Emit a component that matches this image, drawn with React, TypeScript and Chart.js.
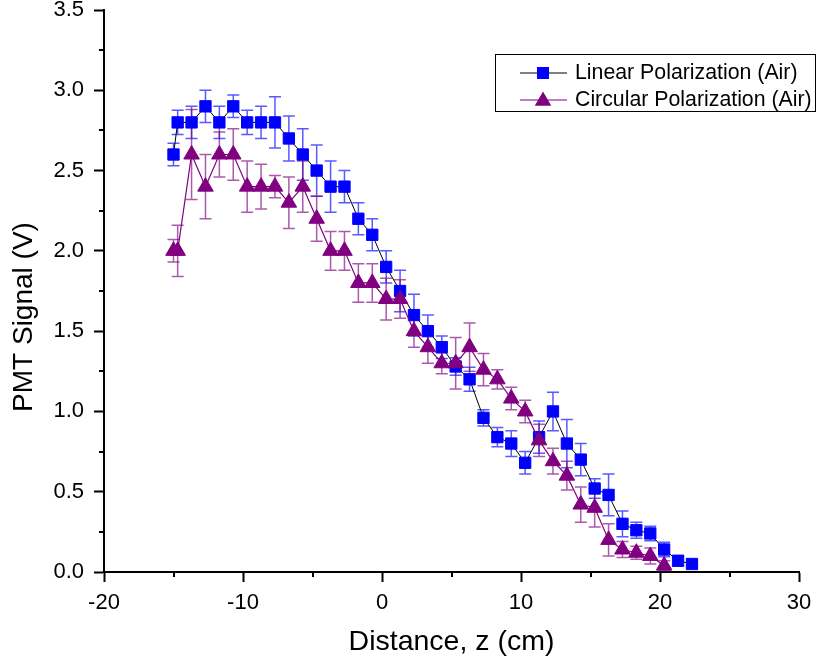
import React, { useEffect, useRef } from 'react';
import { Chart, registerables } from 'chart.js';

Chart.register(...registerables);

// ---- data ----
const distance = [
  -15, -14.7, -13.7, -12.7, -11.7, -10.7, -9.7, -8.7, -7.7, -6.7, -5.7, -4.7, -3.7,
  -2.7, -1.7, -0.7, 0.3, 1.3, 2.3, 3.3, 4.3, 5.3, 6.3, 7.3, 8.3, 9.3, 10.3, 11.3,
  12.3, 13.3, 14.3, 15.3, 16.3, 17.3, 18.3, 19.3, 20.3, 21.3, 22.3,
];

const linearSignal = [
  2.6, 2.8, 2.8, 2.9, 2.8, 2.9, 2.8, 2.8, 2.8, 2.7, 2.6, 2.5, 2.4,
  2.4, 2.2, 2.1, 1.9, 1.75, 1.6, 1.5, 1.4, 1.28, 1.2, 0.96, 0.84, 0.8, 0.68, 0.84,
  1.0, 0.8, 0.7, 0.52, 0.48, 0.3, 0.26, 0.24, 0.14, 0.07, 0.05,
];
const linearError = [
  0.07, 0.075, 0.1, 0.1, 0.1, 0.07, 0.075, 0.1, 0.16, 0.14, 0.16, 0.16, 0.16,
  0.1, 0.1, 0.1, 0.1, 0.13, 0.13, 0.1, 0.07, 0.055, 0.075, 0.05, 0.06, 0.08, 0.07, 0.1,
  0.12, 0.15, 0.1, 0.06, 0.13, 0.08, 0.05, 0.045, 0.045, 0.03, 0.02,
];

const circularSignal = [
  2.0, 2.0, 2.6, 2.4, 2.6, 2.6, 2.4, 2.4, 2.4, 2.3, 2.4, 2.2, 2.0,
  2.0, 1.8, 1.8, 1.7, 1.7, 1.5, 1.4, 1.3, 1.3, 1.4, 1.26, 1.2, 1.08, 1.0, 0.82,
  0.69, 0.6, 0.42, 0.4, 0.2, 0.14, 0.12, 0.1, 0.04,
];
const circularError = [
  0.07, 0.16, 0.28, 0.2, 0.14, 0.16, 0.16, 0.14, 0.07, 0.16, 0.16, 0.14, 0.12,
  0.12, 0.12, 0.12, 0.13, 0.12, 0.1, 0.1, 0.065, 0.16, 0.15, 0.1, 0.06, 0.07, 0.07, 0.1,
  0.08, 0.09, 0.11, 0.12, 0.1, 0.05, 0.04, 0.05, 0.03,
];

const seriesNames = ['Linear Polarization (Air)', 'Circular Polarization (Air)'];
const xTickLabels = [-20, -10, 0, 10, 20, 30];
const yTickLabels = [0, 0.5, 1.0, 1.5, 2.0, 2.5, 3.0, 3.5];
const xTitle = 'Distance, z (cm)';
const yTitle = 'PMT Signal (V)';

const FONT = '"Liberation Sans", Arial, Helvetica, sans-serif';
const BLUE = '#0000ff';
const PURPLE = '#800080';

function drawTriangle(ctx: CanvasRenderingContext2D, x: number, y: number, r: number) {
  ctx.beginPath();
  ctx.moveTo(x, y - r);
  ctx.lineTo(x + r * Math.sin(Math.PI * 2 / 3), y + r / 2);
  ctx.lineTo(x - r * Math.sin(Math.PI * 2 / 3), y + r / 2);
  ctx.closePath();
  ctx.fill();
}

const errorBarPlugin = {
  id: 'errorBars',
  beforeDatasetsDraw(chart: any) {
    const { ctx, scales } = chart;
    const xs = scales.x;
    const ys = scales.y;
    chart.data.datasets.forEach((ds: any) => {
      const errs = ds.errors;
      if (!errs) return;
      ctx.save();
      ctx.strokeStyle = ds.errorColor;
      ctx.lineWidth = 1.5;
      ds.data.forEach((p: any, i: number) => {
        const px = xs.getPixelForValue(p.x);
        const top = ys.getPixelForValue(p.y + errs[i]);
        const bot = ys.getPixelForValue(p.y - errs[i]);
        ctx.beginPath();
        ctx.moveTo(px, top);
        ctx.lineTo(px, bot);
        ctx.moveTo(px - 6, top);
        ctx.lineTo(px + 6, top);
        ctx.moveTo(px - 6, bot);
        ctx.lineTo(px + 6, bot);
        ctx.stroke();
      });
      ctx.restore();
    });
  },
};

const decorPlugin = {
  id: 'decor',
  afterDraw(chart: any) {
    const { ctx, scales, chartArea } = chart;
    const xs = scales.x;
    const ys = scales.y;
    ctx.save();
    // minor ticks
    ctx.strokeStyle = '#000';
    ctx.lineWidth = 2;
    ctx.beginPath();
    xs.ticks.forEach((t: any) => {
      if (Math.abs(t.value % 10) > 1e-6) {
        const px = Math.round(xs.getPixelForValue(t.value));
        ctx.moveTo(px, chartArea.bottom);
        ctx.lineTo(px, chartArea.bottom + 5);
      }
    });
    ys.ticks.forEach((t: any) => {
      if (Math.round(t.value * 4) % 2 !== 0) {
        const py = Math.round(ys.getPixelForValue(t.value));
        ctx.moveTo(chartArea.left, py);
        ctx.lineTo(chartArea.left - 5, py);
      }
    });
    ctx.stroke();

    // y title
    ctx.save();
    ctx.translate(24, 317);
    ctx.rotate(-Math.PI / 2);
    ctx.fillStyle = '#000';
    ctx.font = `28px ${FONT}`;
    ctx.textAlign = 'center';
    ctx.textBaseline = 'middle';
    ctx.fillText(yTitle, 0, 0);
    ctx.restore();

    // legend
    const lx = 495.5, ly = 54.5, lw = 320, lh = 57;
    ctx.strokeStyle = '#000';
    ctx.lineWidth = 1;
    ctx.strokeRect(lx, ly, lw, lh);
    const rows = [
      { y: 73, line: '#000', lineW: 1, color: BLUE, shape: 'rect', name: seriesNames[0] },
      { y: 100, line: PURPLE, lineW: 1.2, color: PURPLE, shape: 'tri', name: seriesNames[1] },
    ];
    rows.forEach((r) => {
      ctx.strokeStyle = r.line;
      ctx.lineWidth = r.lineW;
      ctx.beginPath();
      ctx.moveTo(520, r.y);
      ctx.lineTo(567, r.y);
      ctx.stroke();
      ctx.fillStyle = r.color;
      if (r.shape === 'rect') {
        ctx.fillRect(543 - 6, r.y - 6, 12, 12);
      } else {
        drawTriangle(ctx, 543, r.y + 1, 9.5);
      }
      ctx.fillStyle = '#000';
      ctx.font = `21.3px ${FONT}`;
      ctx.textAlign = 'left';
      ctx.textBaseline = 'middle';
      ctx.fillText(r.name, 575, r.y);
    });
    ctx.restore();
  },
};

export default function App() {
  const canvasRef = useRef<HTMLCanvasElement | null>(null);

  useEffect(() => {
    const canvas = canvasRef.current;
    if (!canvas) return;

    const linearData = linearSignal.map((v, i) => ({ x: distance[i], y: v }));
    const circularData = circularSignal.map((v, i) => ({ x: distance[i], y: v }));

    const isMajorX = (v: number) => xTickLabels.some((t) => Math.abs(t - v) < 1e-6);
    const isMajorY = (v: number) => yTickLabels.some((t) => Math.abs(t - v) < 1e-6);

    const chart = new Chart(canvas, {
      type: 'scatter',
      data: {
        datasets: [
          {
            label: seriesNames[0],
            data: linearData,
            showLine: true,
            borderColor: '#000',
            borderWidth: 1,
            pointStyle: 'rect',
            pointRadius: 8,
            pointBackgroundColor: BLUE,
            pointBorderColor: BLUE,
            pointBorderWidth: 1,
            order: 2,
            clip: false,
            errors: linearError,
            errorColor: 'rgba(20,20,255,0.7)',
          } as any,
          {
            label: seriesNames[1],
            data: circularData,
            showLine: true,
            borderColor: PURPLE,
            borderWidth: 1.2,
            pointStyle: 'triangle',
            pointRadius: 9,
            pointBackgroundColor: PURPLE,
            pointBorderColor: PURPLE,
            pointBorderWidth: 1,
            order: 1,
            clip: false,
            errors: circularError,
            errorColor: 'rgba(128,0,128,0.65)',
          } as any,
        ],
      },
      options: {
        responsive: false,
        animation: false,
        devicePixelRatio: 1,
        layout: { padding: { left: 0, top: 10, right: 18, bottom: 0 } },
        plugins: {
          legend: { display: false },
          tooltip: { enabled: false },
        },
        scales: {
          x: {
            type: 'linear',
            position: 'bottom',
            min: -20,
            max: 30,
            afterFit: (s: any) => {
              s.height = 93;
              s.paddingLeft = 0;
              s.paddingRight = 0;
            },
            ticks: {
              stepSize: 5,
              autoSkip: false,
              maxRotation: 0,
              padding: 10,
              color: '#000',
              font: { family: FONT, size: 22, lineHeight: 1 },
              callback: (v: any) => (isMajorX(Number(v)) ? String(v) : ''),
            },
            grid: {
              drawOnChartArea: false,
              drawTicks: true,
              tickLength: 10,
              tickWidth: 2,
              tickColor: (c: any) => (c.tick && isMajorX(c.tick.value) ? '#000' : 'rgba(0,0,0,0)'),
            },
            border: { display: true, color: '#000', width: 2 },
            title: {
              display: true,
              text: xTitle,
              color: '#000',
              font: { family: FONT, size: 28.5 },
              padding: { top: 0, bottom: 6 },
            },
          },
          y: {
            type: 'linear',
            position: 'left',
            min: 0,
            max: 3.5,
            afterFit: (s: any) => {
              s.width = 104;
              s.paddingTop = 0;
              s.paddingBottom = 0;
            },
            ticks: {
              stepSize: 0.25,
              autoSkip: false,
              padding: 10,
              color: '#000',
              font: { family: FONT, size: 22, lineHeight: 1 },
              callback: (v: any) => (isMajorY(Number(v)) ? Number(v).toFixed(1) : ''),
            },
            grid: {
              drawOnChartArea: false,
              drawTicks: true,
              tickLength: 10,
              tickWidth: 2,
              tickColor: (c: any) => (c.tick && isMajorY(c.tick.value) ? '#000' : 'rgba(0,0,0,0)'),
            },
            border: { display: true, color: '#000', width: 2 },
          },
        },
      },
      plugins: [errorBarPlugin, decorPlugin],
    });

    return () => chart.destroy();
  }, []);

  return (
    <div style={{ position: 'absolute', left: 0, top: 0, width: 817, height: 665, background: '#fff' }}>
      <canvas ref={canvasRef} width={817} height={665} style={{ display: 'block' }} />
    </div>
  );
}
